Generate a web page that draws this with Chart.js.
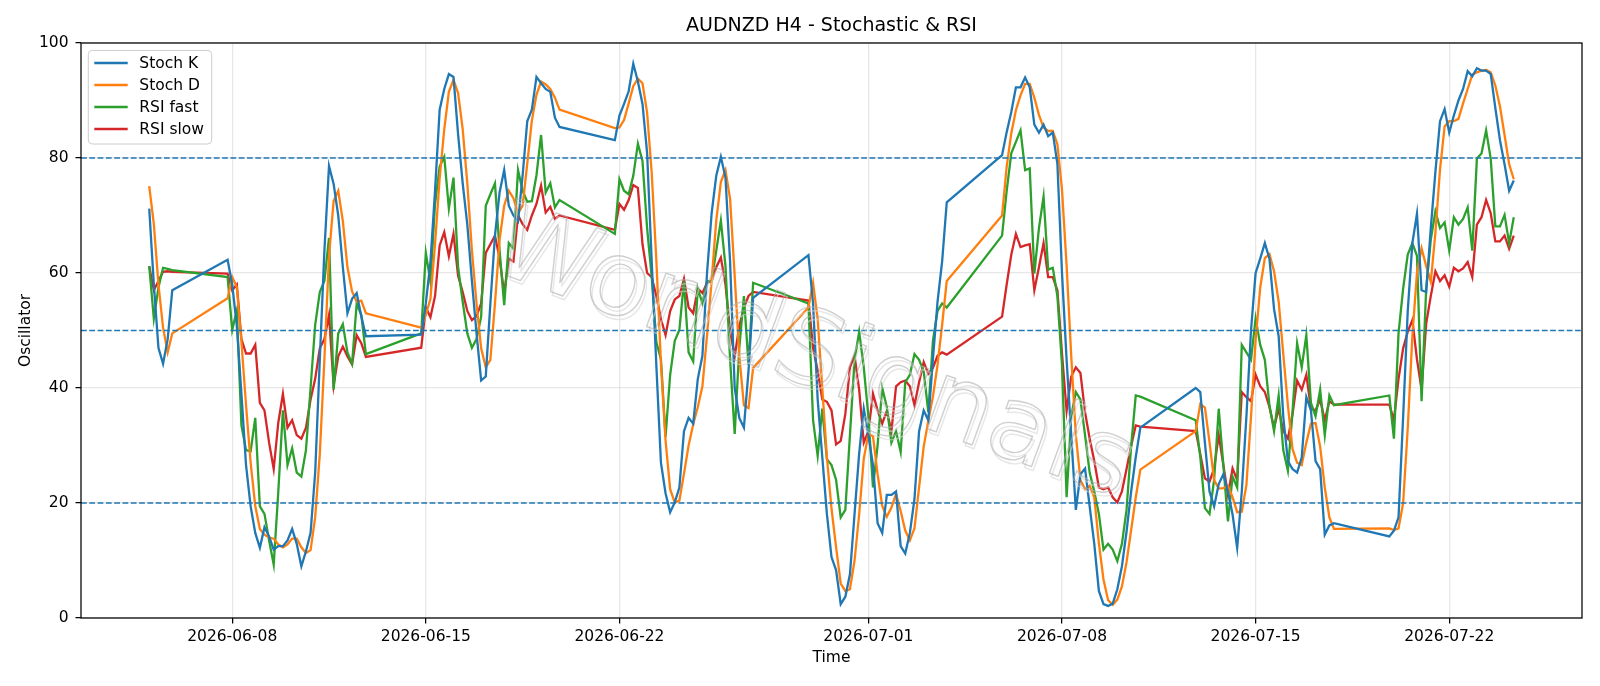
<!DOCTYPE html>
<html>
<head>
<meta charset="utf-8">
<script src="https://cdn.jsdelivr.net/npm/chart.js@4.4.1/dist/chart.umd.min.js"></script>
<style>
  html, body { margin: 0; padding: 0; background: #fff; }
  #wrap { width: 1600px; height: 686px; }
</style>
</head>
<body>
<div id="wrap"><canvas id="chart" width="1600" height="686"></canvas></div>
<script>
/* AUDNZD H4 oscillators: stochastic K/D and fast/slow RSI on 4h bars */

const HOUR = 3600 * 1000;
const BAR_HOURS = 4;

// trading stretches (UTC open of first bar) and how many 4h bars each holds
const SEG_STARTS = [
  '2026-06-05T00:00:00Z', '2026-06-07T20:00:00Z', '2026-06-14T20:00:00Z', '2026-06-21T20:00:00Z',
  '2026-06-28T20:00:00Z', '2026-07-05T20:00:00Z', '2026-07-12T20:00:00Z', '2026-07-19T20:00:00Z',
];
const SEG_BARS = [6, 31, 31, 31, 31, 31, 31, 28];

const X_TICKS = ['2026-06-08', '2026-06-15', '2026-06-22', '2026-07-01', '2026-07-08', '2026-07-15', '2026-07-22'];
const Y_TICKS = [0, 20, 40, 60, 80, 100];
const LEVELS = [20, 50, 80];

const stochK = [
  71.2, 58.0, 47.0, 44.2, 48.5, 57.0,
  62.3, 58.0, 50.8, 39.0, 26.6, 19.4, 14.8, 12.2, 15.8, 14.2, 11.9, 12.5, 12.5, 13.5, 15.5, 12.9,
  9.0, 11.6, 14.8, 25.3, 44.9, 63.9, 78.6, 75.5, 70.0, 61.0, 53.0, 55.5, 56.5, 52.5, 49.0,
  49.3, 54.7, 61.9, 74.3, 88.4, 92.0, 94.6, 94.1, 84.1, 75.6, 68.4, 58.6, 49.5, 41.3, 42.0, 54.7,
  66.5, 74.0, 77.9, 71.7, 70.0, 69.0, 77.0, 86.4, 88.4, 94.1, 93.0, 92.0, 91.5, 87.0, 85.4,
  83.1, 87.4, 89.4, 91.6, 96.4, 93.3, 89.4, 80.9, 62.0, 44.0, 27.0, 21.7, 18.4, 20.1, 22.7, 32.5,
  34.8, 33.8, 41.6, 45.6, 60.0, 70.4, 76.9, 80.2, 76.6, 62.0, 40.0, 34.8, 33.1, 43.0, 55.7,
  63.1, 54.7, 38.0, 28.0, 18.1, 10.6, 8.3, 2.4, 3.7, 7.6, 18.1, 28.6, 36.4, 31.8, 26.6, 16.5,
  14.8, 21.4, 21.4, 22.0, 12.5, 11.2, 14.8, 20.7, 32.5, 36.1, 34.4, 45.0, 55.0, 62.0, 72.3,
  80.5, 84.5, 88.0, 92.3, 92.3, 94.0, 92.3, 85.8, 84.4, 85.8, 83.8, 84.4, 79.0, 60.0, 44.9, 31.8,
  18.8, 25.0, 26.0, 19.4, 12.9, 4.7, 2.4, 2.1, 2.5, 5.0, 9.0, 15.0, 22.0, 28.0, 33.1,
  40.0, 39.3, 30.5, 22.0, 19.4, 23.3, 25.0, 22.0, 18.0, 12.2, 22.0, 35.0, 50.0, 60.0, 62.5, 65.2,
  62.5, 53.7, 49.0, 35.0, 27.3, 25.9, 25.3, 27.9, 38.4, 36.1, 27.3, 25.9, 14.5, 16.1, 16.5,
  14.2, 15.2, 17.5, 35.0, 53.4, 65.2, 70.3, 57.0, 56.7, 67.8, 77.6, 86.4, 88.5, 84.4, 87.4, 90.0,
  92.0, 95.1, 94.2, 95.6, 95.2, 95.2, 94.6, 88.7, 83.1, 78.9, 74.3, 76.1,
];

const stochD = [
  75.1, 68.5, 58.0, 50.5, 46.2, 49.5,
  55.6, 59.3, 57.5, 48.0, 37.0, 27.0, 19.5, 15.5, 14.5, 14.0, 13.8, 12.8, 12.3, 12.8, 13.8, 13.8,
  12.3, 11.3, 11.8, 17.5, 28.5, 45.0, 63.0, 72.5, 74.3, 69.0, 61.0, 56.8, 55.0, 55.2, 53.0,
  50.5, 52.7, 55.5, 65.0, 76.5, 85.0, 91.5, 93.6, 91.3, 85.0, 75.6, 63.9, 54.7, 46.9, 43.6, 44.9,
  54.7, 65.8, 71.7, 74.3, 73.0, 70.4, 71.7, 79.0, 86.5, 91.0, 93.3, 92.8, 92.0, 90.5, 88.4,
  85.2, 85.3, 86.6, 89.5, 92.5, 93.8, 93.0, 87.9, 77.4, 62.3, 44.3, 30.9, 22.4, 20.1, 20.4, 25.1,
  30.0, 33.7, 36.7, 40.3, 49.1, 58.7, 69.1, 75.8, 77.9, 72.9, 59.5, 45.6, 37.0, 36.5, 43.5,
  54.0, 58.3, 52.0, 40.0, 28.0, 19.0, 12.3, 6.0, 4.7, 5.0, 10.0, 18.0, 27.7, 32.0, 31.6, 25.0,
  19.5, 17.6, 19.2, 21.6, 18.6, 15.2, 13.5, 15.6, 22.7, 29.8, 34.3, 38.5, 44.0, 51.0, 58.6,
  70.0, 78.5, 84.3, 88.3, 90.9, 92.9, 92.9, 90.5, 87.5, 85.3, 84.7, 84.7, 82.4, 74.5, 61.3, 45.6,
  31.8, 24.0, 22.4, 23.0, 21.0, 13.0, 6.7, 3.1, 2.3, 3.2, 5.5, 9.7, 15.3, 21.0, 25.8,
  32.5, 37.2, 36.6, 30.6, 24.0, 22.5, 22.6, 23.0, 21.0, 18.4, 18.5, 23.1, 35.0, 48.3, 57.5, 62.6,
  63.3, 60.3, 55.0, 45.9, 37.0, 29.4, 27.0, 26.6, 30.5, 33.8, 33.9, 29.8, 22.7, 17.5, 15.5,
  15.6, 15.3, 15.6, 20.0, 33.0, 49.0, 60.0, 64.3, 61.2, 58.5, 67.0, 78.0, 85.5, 86.4, 86.4, 86.8,
  89.5, 92.0, 94.5, 94.9, 95.2, 95.3, 94.9, 92.6, 89.0, 84.0, 78.9, 76.3,
];

const rsiFast = [
  61.2, 52.1, 57.5, 60.9, 60.7, 60.5,
  59.3, 50.1, 53.5, 33.5, 29.2, 29.0, 34.8, 19.4, 18.1, 13.5, 9.3, 22.0, 36.1, 26.6, 29.5, 25.3,
  24.6, 29.2, 40.0, 51.0, 56.7, 58.6, 66.1, 39.7, 49.5, 51.1, 46.2, 44.2, 54.7, 52.7, 45.9,
  49.5, 63.5, 58.5, 72.0, 78.5, 80.2, 71.2, 76.6, 61.0, 55.0, 49.5, 47.0, 48.5, 52.4, 71.7, 73.7,
  75.6, 63.9, 54.4, 65.2, 64.2, 77.9, 74.3, 72.4, 72.5, 77.0, 84.0, 74.0, 75.6, 71.4, 72.7,
  66.8, 76.3, 74.3, 73.7, 76.9, 82.5, 79.5, 67.8, 59.3, 48.0, 45.0, 31.5, 42.3, 48.2, 50.1, 58.6,
  46.2, 44.6, 57.3, 54.7, 58.6, 58.6, 63.9, 69.1, 61.2, 45.0, 32.0, 47.0, 56.0, 44.0, 58.3,
  54.7, 34.4, 28.2, 36.4, 27.6, 26.6, 24.0, 17.5, 18.8, 31.8, 44.9, 49.8, 43.6, 35.1, 22.7, 30.0,
  40.0, 36.7, 30.5, 32.5, 28.9, 41.0, 42.3, 45.9, 44.9, 42.9, 35.8, 48.2, 53.4, 54.7, 54.0,
  66.5, 74.3, 80.8, 82.8, 84.8, 77.9, 78.2, 59.9, 67.8, 73.3, 60.6, 60.9, 56.0, 44.0, 21.0, 35.1,
  39.3, 38.0, 31.8, 25.3, 22.0, 18.1, 11.9, 12.9, 11.9, 9.9, 12.9, 18.8, 29.9, 38.7, 38.5,
  34.4, 28.0, 19.1, 18.1, 24.0, 36.4, 26.6, 16.8, 24.6, 22.7, 47.5, 46.2, 44.9, 52.1, 47.5, 44.9,
  37.0, 32.5, 38.7, 29.2, 25.6, 35.8, 47.8, 43.6, 49.2, 37.4, 35.1, 39.7, 31.8, 38.7, 37.0,
  38.7, 31.2, 49.5, 57.3, 63.2, 65.2, 63.0, 37.7, 57.3, 65.8, 70.7, 67.8, 68.8, 63.9, 69.7, 68.4,
  69.4, 71.4, 63.9, 79.9, 80.8, 84.8, 79.9, 68.1, 68.1, 70.1, 65.2, 69.7,
];

const rsiSlow = [
  61.2, 57.0, 58.6, 60.2, 60.3, 60.2,
  59.9, 57.0, 58.0, 48.5, 46.0, 46.0, 47.5, 37.4, 36.1, 30.5, 25.9, 34.0, 39.0, 33.1, 34.4, 31.8,
  31.2, 33.1, 38.0, 41.6, 46.9, 48.5, 52.7, 40.4, 45.5, 47.2, 45.5, 44.1, 49.2, 47.8, 45.4,
  47.0, 54.0, 52.3, 56.0, 64.8, 67.1, 62.9, 66.8, 59.5, 56.7, 53.4, 51.8, 52.5, 54.7, 63.5, 65.0,
  66.5, 62.5, 56.5, 62.5, 62.0, 70.0, 68.5, 67.5, 70.0, 72.0, 75.2, 70.5, 71.5, 69.4, 70.0,
  67.5, 72.0, 71.0, 72.7, 75.3, 74.8, 65.0, 60.0, 59.3, 56.0, 52.0, 49.2, 53.4, 55.4, 56.0, 59.0,
  54.0, 53.0, 57.3, 56.5, 58.3, 58.6, 61.0, 62.7, 58.0, 50.0, 45.5, 50.8, 54.0, 56.0, 56.7,
  55.2, 47.0, 43.0, 38.0, 37.6, 36.1, 30.2, 30.8, 35.5, 43.6, 45.6, 39.7, 30.5, 32.5, 39.0, 36.1,
  33.8, 36.0, 32.5, 40.3, 41.0, 41.3, 40.3, 37.0, 41.0, 44.5, 42.5, 43.5, 45.6, 46.2, 45.8,
  52.4, 58.0, 63.2, 66.8, 64.5, 64.8, 65.0, 57.0, 61.0, 65.2, 59.3, 59.3, 57.0, 46.0, 36.0, 42.0,
  43.6, 42.6, 35.8, 31.2, 27.3, 22.7, 22.4, 22.7, 21.0, 20.1, 22.0, 25.9, 29.9, 33.5, 33.3,
  32.5, 28.5, 24.3, 23.7, 26.0, 31.8, 26.6, 21.4, 26.0, 24.0, 39.3, 38.4, 37.7, 42.3, 40.3, 39.3,
  36.7, 33.1, 36.4, 32.5, 31.2, 35.4, 41.3, 39.7, 42.3, 36.4, 36.1, 38.0, 34.4, 37.7, 37.1,
  37.1, 34.4, 41.6, 46.9, 49.8, 51.8, 45.0, 39.7, 51.2, 56.0, 60.3, 58.6, 59.6, 57.6, 60.9, 60.3,
  60.8, 61.9, 59.3, 68.4, 69.7, 72.7, 70.4, 65.5, 65.5, 66.5, 64.2, 66.5,
];

const SERIES = [
  { label: 'Stoch K', values: stochK, color: '#1f77b4' },
  { label: 'Stoch D', values: stochD, color: '#ff7f0e' },
  { label: 'RSI fast', values: rsiFast, color: '#2ca02c' },
  { label: 'RSI slow', values: rsiSlow, color: '#d62728' },
];

const WATERMARK = 'WorldSignals';

// bar times
const times = [];
SEG_STARTS.forEach((s, i) => {
  const t0 = Date.parse(s);
  for (let k = 0; k < SEG_BARS[i]; k++) times.push(t0 + k * BAR_HOURS * HOUR);
});
const span = times[times.length - 1] - times[0];
const xMin = times[0] - 0.05 * span;
const xMax = times[times.length - 1] + 0.05 * span;

const FONT = "'DejaVu Sans', sans-serif";
const TICK_FONT = { family: FONT, size: 15.5 };
const GRID = {
  color: 'rgba(176,176,176,0.3)',
  lineWidth: 1.25,
  tickColor: '#000',
  tickLength: 5.5,
  tickWidth: 1.25,
};

const framePlugin = {
  id: 'frame',
  afterDatasetsDraw(chart) {
    const { ctx, chartArea: a, scales } = chart;
    ctx.save();

    // overbought / middle / oversold guides
    ctx.strokeStyle = '#1f77b4';
    ctx.lineWidth = 1.5;
    ctx.setLineDash([5.8, 2.5]);
    LEVELS.forEach((v) => {
      const py = scales.y.getPixelForValue(v);
      ctx.beginPath();
      ctx.moveTo(a.left, py);
      ctx.lineTo(a.right, py);
      ctx.stroke();
    });
    ctx.setLineDash([]);

    // spines
    ctx.strokeStyle = '#000';
    ctx.lineWidth = 1.25;
    ctx.strokeRect(a.left, a.top, a.right - a.left, a.bottom - a.top);

    // title
    ctx.fillStyle = '#000';
    ctx.font = `19px ${FONT}`;
    ctx.textAlign = 'center';
    ctx.textBaseline = 'middle';
    ctx.fillText('AUDNZD H4 - Stochastic & RSI', (a.left + a.right) / 2, 26);

    // legend, upper left
    const bx = a.left + 7.3, by = a.top + 7.4, bw = 123.4, bh = 93.6;
    ctx.beginPath();
    ctx.roundRect(bx, by, bw, bh, 4);
    ctx.fillStyle = 'rgba(255,255,255,0.8)';
    ctx.fill();
    ctx.strokeStyle = '#cccccc';
    ctx.lineWidth = 1;
    ctx.stroke();
    ctx.font = `15.5px ${FONT}`;
    ctx.textAlign = 'left';
    SERIES.forEach((s, i) => {
      const ry = by + 12.6 + i * 22;
      ctx.strokeStyle = s.color;
      ctx.lineWidth = 2.3;
      ctx.beginPath();
      ctx.moveTo(bx + 6, ry);
      ctx.lineTo(bx + 39.4, ry);
      ctx.stroke();
      ctx.fillStyle = '#000';
      ctx.fillText(s.label, bx + 51, ry + 1);
    });

    ctx.restore();
  },
  afterDraw(chart) {
    // faint outlined watermark across the middle of the plot
    const { ctx } = chart;
    ctx.save();
    ctx.translate(812, 358);
    ctx.rotate(20 * Math.PI / 180);
    ctx.font = `104px ${FONT}`;
    ctx.textAlign = 'center';
    ctx.textBaseline = 'middle';
    ctx.lineJoin = 'round';
    ctx.lineWidth = 1.4;
    ctx.strokeStyle = 'rgba(215,215,215,0.6)';
    ctx.strokeText(WATERMARK, 3, 3);
    ctx.strokeStyle = 'rgba(175,175,175,0.6)';
    ctx.strokeText(WATERMARK, 0, 0);
    ctx.restore();
  },
};

new Chart(document.getElementById('chart'), {
  type: 'line',
  data: {
    datasets: SERIES.map((s) => ({
      label: s.label,
      data: s.values.map((v, i) => ({ x: times[i], y: v })),
      borderColor: s.color,
      backgroundColor: s.color,
      borderWidth: 2.3,
      pointRadius: 0,
      tension: 0,
      fill: false,
    })),
  },
  options: {
    responsive: false,
    animation: false,
    events: [],
    layout: { padding: { left: 0, right: 18, top: 43, bottom: 0 } },
    plugins: { legend: { display: false }, title: { display: false }, tooltip: { enabled: false } },
    scales: {
      x: {
        type: 'linear',
        min: xMin,
        max: xMax,
        afterBuildTicks: (s) => {
          s.ticks = X_TICKS.map((d) => ({ value: Date.parse(d + 'T00:00:00Z') }));
        },
        afterFit: (s) => { s.height = 68; },
        ticks: {
          callback: (v) => new Date(v).toISOString().slice(0, 10),
          font: TICK_FONT,
          color: '#000',
          padding: 4,
          maxRotation: 0,
          autoSkip: false,
        },
        grid: GRID,
        border: { display: false },
        title: { display: true, text: 'Time', color: '#000', font: TICK_FONT, padding: { top: 0, bottom: 19 } },
      },
      y: {
        min: 0,
        max: 100,
        afterBuildTicks: (s) => { s.ticks = Y_TICKS.map((v) => ({ value: v })); },
        afterFit: (s) => { s.width = 81; },
        ticks: { font: TICK_FONT, color: '#000', padding: 7 },
        grid: GRID,
        border: { display: false },
        title: { display: true, text: 'Oscillator', color: '#000', font: TICK_FONT, padding: { top: 17, bottom: 0 } },
      },
    },
  },
  plugins: [framePlugin],
});
</script>
</body>
</html>
